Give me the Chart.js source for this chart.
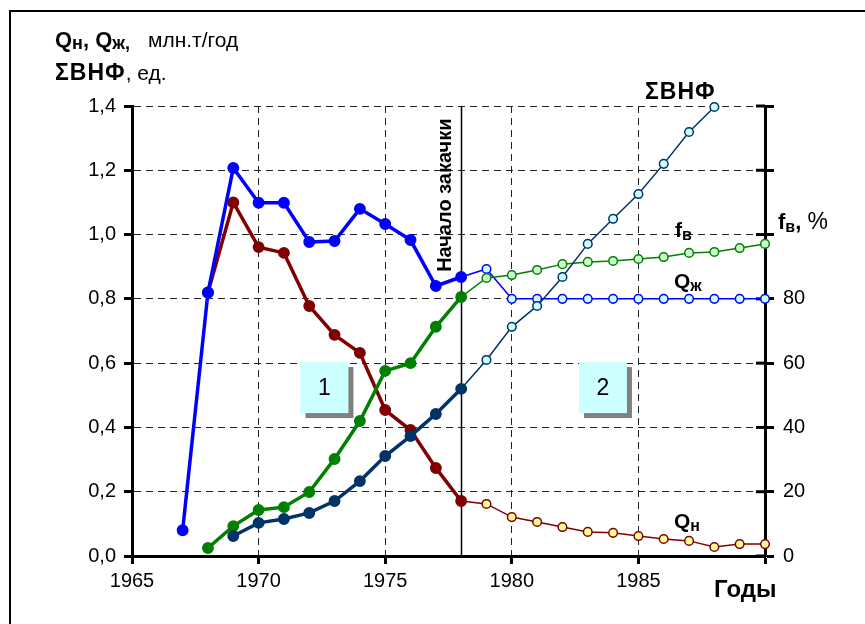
<!DOCTYPE html>
<html>
<head>
<meta charset="utf-8">
<script src="https://cdn.jsdelivr.net/npm/chart.js@4.4.0/dist/chart.umd.min.js"></script>
<style>
  html, body { margin: 0; padding: 0; background: #fff; }
  #wrap { position: relative; width: 865px; height: 624px; overflow: hidden; }
  #frame { position: absolute; left: 9px; top: 10px; width: 900px; height: 700px; border: 2px solid #000; box-sizing: border-box; pointer-events: none; }
  canvas { position: absolute; left: 0; top: 0; }
</style>
</head>
<body>
<div id="wrap">
  <canvas id="chart" width="865" height="624"></canvas>
  <div id="frame"></div>
</div>
<script>
// Oil / liquid production, water cut and cumulative WOR by year

const INJECTION_YEAR = 1978;

const qzYears = [1967, 1968, 1969, 1970, 1971, 1972, 1973, 1974, 1975, 1976, 1977, 1978, 1979,
  1980, 1981, 1982, 1983, 1984, 1985, 1986, 1987, 1988, 1989, 1990];
const qz = [0.08, 0.82, 1.207, 1.099, 1.099, 0.977, 0.980, 1.080, 1.033, 0.983, 0.840, 0.868, 0.893,
  0.80, 0.80, 0.80, 0.80, 0.80, 0.80, 0.80, 0.80, 0.80, 0.80, 0.80];

const qnYears = [1968, 1969, 1970, 1971, 1972, 1973, 1974, 1975, 1976, 1977, 1978, 1979,
  1980, 1981, 1982, 1983, 1984, 1985, 1986, 1987, 1988, 1989, 1990];
const qn = [0.82, 1.10, 0.961, 0.943, 0.778, 0.688, 0.632, 0.454, 0.392, 0.274, 0.171, 0.162,
  0.121, 0.106, 0.090, 0.075, 0.072, 0.062, 0.053, 0.047, 0.028, 0.037, 0.037];

const fvYears = qnYears;
const fv = [2.5, 9.3, 14.3, 15.2, 19.9, 30.2, 42.0, 57.6, 60.0, 71.3, 80.6, 86.5,
  87.4, 89.0, 90.8, 91.5, 91.8, 92.4, 93.0, 94.3, 94.6, 95.8, 97.1];

const vnfYears = [1969, 1970, 1971, 1972, 1973, 1974, 1975, 1976, 1977, 1978, 1979,
  1980, 1981, 1982, 1983, 1984, 1985, 1986, 1987, 1988];
const vnf = [0.062, 0.103, 0.115, 0.134, 0.171, 0.233, 0.311, 0.373, 0.442, 0.520, 0.610,
  0.713, 0.778, 0.868, 0.971, 1.049, 1.126, 1.220, 1.319, 1.397];

const FONT = "'Liberation Sans', Arial, sans-serif";

function pts(xs, ys) {
  return xs.map((x, i) => ({ x: x, y: ys[i] }));
}

function series(label, xs, ys, color, light, axis) {
  const early = ctx => ctx.raw && ctx.raw.x <= INJECTION_YEAR;
  return {
    label: label,
    data: pts(xs, ys),
    yAxisID: axis,
    borderColor: color,
    borderWidth: 3.5,
    segment: {
      borderWidth: ctx => ctx.p0.parsed.x < INJECTION_YEAR ? 3.5 : 1.5,
    },
    pointBackgroundColor: ctx => early(ctx) ? color : light,
    pointBorderColor: color,
    pointBorderWidth: 1.5,
    pointRadius: ctx => early(ctx) ? 5.2 : 4.3,
    tension: 0,
    clip: false,
  };
}

// rich text: array of [text, font, dy, letterSpacing]
function rich(ctx, x, y, parts) {
  ctx.save();
  ctx.fillStyle = "#000";
  ctx.textBaseline = "alphabetic";
  ctx.textAlign = "left";
  parts.forEach(p => {
    ctx.font = p[1];
    ctx.letterSpacing = p[3] || "0px";
    ctx.fillText(p[0], x, y + (p[2] || 0));
    x += ctx.measureText(p[0]).width;
  });
  ctx.restore();
}

const B22 = "bold 22px " + FONT;
const B23 = "bold 23px " + FONT;
const B21 = "bold 21px " + FONT;
const SUB = "bold 16px " + FONT;
const SUB18 = "bold 18px " + FONT;
const N22 = "21px " + FONT;

const decor = {
  id: "decor",
  beforeDatasetsDraw(chart) {
    const { ctx, chartArea, scales } = chart;
    const x = scales.x, y = scales.y, yr = scales.yr;
    ctx.save();

    // injection start line
    const lx = Math.round(x.getPixelForValue(INJECTION_YEAR)) + 0.5;
    ctx.strokeStyle = "#000";
    ctx.lineWidth = 1.5;
    ctx.beginPath();
    ctx.moveTo(lx, chartArea.top);
    ctx.lineTo(lx, chartArea.bottom);
    ctx.stroke();

    // inner half of right axis ticks
    ctx.lineWidth = 3;
    yr.ticks.forEach(t => {
      const ty = yr.getPixelForValue(t.value);
      ctx.beginPath();
      ctx.moveTo(chartArea.right - 9, ty);
      ctx.lineTo(chartArea.right, ty);
      ctx.stroke();
    });

    // stage boxes
    [[1972.6, 0.524, "1"], [1983.6, 0.524, "2"]].forEach(b => {
      const cx = x.getPixelForValue(b[0]);
      const cy = y.getPixelForValue(b[1]);
      const w = 48, h = 51;
      ctx.fillStyle = "#808080";
      ctx.fillRect(cx - w / 2 + 5, cy - h / 2 + 5, w, h);
      ctx.fillStyle = "#ccffff";
      ctx.fillRect(cx - w / 2, cy - h / 2, w, h);
      ctx.fillStyle = "#000";
      ctx.font = "23px " + FONT;
      ctx.textAlign = "center";
      ctx.textBaseline = "middle";
      ctx.fillText(b[2], cx, cy + 1);
    });

    // rotated label
    ctx.save();
    ctx.translate(lx - 16, (chartArea.top + y.getPixelForValue(0.87)) / 2 + 4);
    ctx.rotate(-Math.PI / 2);
    ctx.font = "bold 20px " + FONT;
    ctx.textAlign = "center";
    ctx.textBaseline = "middle";
    ctx.fillStyle = "#000";
    ctx.fillText("Начало закачки", 0, 0);
    ctx.restore();

    ctx.restore();
  },
  afterDraw(chart) {
    const ctx = chart.ctx;
    // left axis title
    rich(ctx, 55, 47, [["Q", B22], ["н", SUB18, 2], [", ", B22], ["Q", B22], ["ж,", SUB18, 2]]);
    rich(ctx, 148, 47, [["млн.т/год", N22]]);
    rich(ctx, 55, 80, [["ΣВНФ", B23, 0, "1px"], [", ед.", N22]]);
    // series labels
    rich(ctx, 645, 99, [["ΣВНФ", B23, 0, "1px"]]);
    rich(ctx, 675, 237, [["f", B21], ["в", SUB, 3]]);
    rich(ctx, 674, 288, [["Q", B21], ["ж", SUB, 3]]);
    rich(ctx, 674, 528, [["Q", B21], ["н", SUB, 3]]);
    // right axis title
    rich(ctx, 778, 229, [["f", B22], ["в", SUB, 3], [", ", B22], ["%", "23px " + FONT]]);
    // x axis title
    rich(ctx, 714, 597, [["Годы", "bold 24px " + FONT]]);
  }
};

const chart = new Chart(document.getElementById("chart").getContext("2d"), {
  type: "line",
  data: {
    datasets: [
      series("ΣВНФ", vnfYears, vnf, "#003366", "#ccffff", "y"),
      series("fв", fvYears, fv, "#008000", "#ccffcc", "yr"),
      series("Qж", qzYears, qz, "#0000ff", "#ccffff", "y"),
      series("Qн", qnYears, qn, "#800000", "#ffff99", "y"),
    ],
  },
  options: {
    responsive: false,
    animation: false,
    layout: { padding: { top: 106, left: 0, right: 0, bottom: 0 } },
    plugins: {
      legend: { display: false },
      tooltip: { enabled: false },
    },
    scales: {
      x: {
        type: "linear",
        min: 1965,
        max: 1990,
        afterFit: s => { s.height = 68; },
        ticks: {
          stepSize: 5,
          color: "#000",
          padding: 5,
          font: { family: FONT, size: 20 },
          callback: v => (v === 1990 ? "" : String(v)),
        },
        grid: { color: "#222", lineWidth: 1, tickLength: 8, tickColor: "#000", tickWidth: 3 },
        border: { display: true, color: "#000", width: 3, dash: [7, 5] },
      },
      y: {
        position: "left",
        min: 0,
        max: 1.4,
        afterFit: s => { s.width = 132; },
        ticks: {
          stepSize: 0.2,
          color: "#000",
          padding: 8,
          font: { family: FONT, size: 20 },
          callback: v => v.toFixed(1).replace(".", ","),
        },
        grid: { color: "#222", lineWidth: 1, tickLength: 8, tickColor: "#000", tickWidth: 3 },
        border: { display: true, color: "#000", width: 3, dash: [7, 5] },
      },
      yr: {
        position: "right",
        min: 0,
        max: 140,
        afterFit: s => { s.width = 100; },
        ticks: {
          stepSize: 20,
          color: "#000",
          padding: 9,
          font: { family: FONT, size: 20 },
          callback: v => (v <= 80 ? String(v) : ""),
        },
        grid: { drawOnChartArea: false, tickLength: 9, tickColor: "#000", tickWidth: 3 },
        border: { display: true, color: "#000", width: 3 },
      },
    },
  },
  plugins: [decor],
});
</script>
</body>
</html>
